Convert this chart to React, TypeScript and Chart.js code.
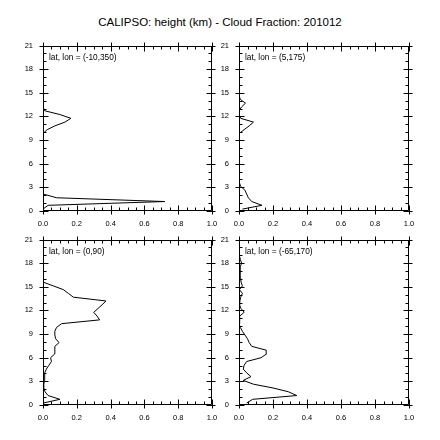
import React, { useEffect, useRef } from "react";
import { Chart, registerables } from "chart.js";

Chart.register(...registerables);

const TITLE = "CALIPSO: height (km) - Cloud Fraction: 201012";

const HEIGHTS_KM = [
  0.24, 0.72, 1.2, 1.68, 2.16, 2.64, 3.12, 3.6, 4.08, 4.56,
  5.04, 5.52, 6.0, 6.48, 6.96, 7.44, 7.92, 8.4, 8.88, 9.36,
  9.84, 10.32, 10.8, 11.28, 11.76, 12.24, 12.72, 13.2, 13.68, 14.16,
  14.64, 15.12, 15.6, 16.08, 16.56, 17.04, 17.52, 18.0, 18.48, 18.96,
];

const PANEL_LABELS = [
  "lat, lon = (-10,350)",
  "lat, lon = (5,175)",
  "lat, lon = (0,90)",
  "lat, lon = (-65,170)",
];

const CF_M10_350 = [
  0.0, 0.03, 0.72, 0.08, 0.0, 0.0, 0.0, 0.0, 0.0, 0.0,
  0.0, 0.0, 0.0, 0.0, 0.0, 0.0, 0.0, 0.0, 0.0, 0.0,
  0.005, 0.025, 0.07, 0.13, 0.165, 0.1, 0.01, 0.0, 0.0, 0.0,
  0.0, 0.0, 0.0, 0.0, 0.0, 0.0, 0.0, 0.0, 0.0, 0.0,
];

const CF_5_175 = [
  0.02, 0.135, 0.075, 0.055, 0.045, 0.035, 0.01, 0.002, 0.0, 0.0,
  0.0, 0.0, 0.0, 0.004, 0.004, 0.004, 0.003, 0.0, 0.0, 0.0,
  0.003, 0.03, 0.06, 0.085, 0.01, 0.0, 0.0, 0.015, 0.038, 0.008,
  0.0, 0.0, 0.0, 0.0, 0.0, 0.0, 0.0, 0.0, 0.0, 0.0,
];

const CF_0_90 = [
  0.0, 0.1, 0.03, 0.012, 0.005, 0.005, 0.008, 0.01, 0.01, 0.02,
  0.035, 0.05, 0.045, 0.07, 0.07, 0.07, 0.095, 0.075, 0.07, 0.07,
  0.08, 0.11, 0.335, 0.32, 0.3, 0.325, 0.35, 0.373, 0.18, 0.15,
  0.12, 0.06, 0.0, 0.0, 0.002, 0.004, 0.005, 0.003, 0.002, 0.0,
];

const CF_M65_170 = [
  0.045, 0.08, 0.34, 0.29, 0.2, 0.085, 0.025, 0.07, 0.045, 0.025,
  0.03, 0.045, 0.13, 0.162, 0.16, 0.075, 0.06, 0.05, 0.035, 0.02,
  0.008, 0.0, 0.003, 0.005, 0.03, 0.012, 0.003, 0.005, 0.01, 0.02,
  0.003, 0.02, 0.012, 0.01, 0.008, 0.006, 0.008, 0.015, 0.008, 0.002,
];

const X_TICKS = [0, 0.2, 0.4, 0.6, 0.8, 1.0];
const Y_TICKS = [0, 3, 6, 9, 12, 15, 18, 21];
const X_MINOR_STEP = 0.05;
const Y_MINOR_STEP = 1;

const FONT = '"Liberation Sans", Arial, Helvetica, sans-serif';

// chart-area rectangles on the page: [left, top, right, bottom]
const PANELS = [
  { area: [43, 41, 212, 211], values: CF_M10_350, label: PANEL_LABELS[0] },
  { area: [239, 41, 409, 211], values: CF_5_175, label: PANEL_LABELS[1] },
  { area: [43, 235, 212, 405], values: CF_0_90, label: PANEL_LABELS[2] },
  { area: [239, 235, 409, 405], values: CF_M65_170, label: PANEL_LABELS[3] },
];

const Y_AXIS_W = 43;
const X_AXIS_H = 25;
const PAD_TOP = 10;
const PAD_RIGHT = 15;

const framePlugin = {
  id: "ncFrame",
  afterDatasetsDraw(chart: any, _args: any, opts: any) {
    const { ctx, chartArea: a } = chart;
    const xs = chart.scales.x;
    const ys = chart.scales.y;
    ctx.save();
    ctx.strokeStyle = "#000";
    ctx.lineWidth = 1;
    const L = Math.round(a.left) + 0.5;
    const R = Math.round(a.right) - 0.5;
    const T = Math.round(a.top) + 0.5;
    const B = Math.round(a.bottom) - 0.5;
    ctx.beginPath();
    ctx.rect(L, T, R - L, B - T);
    const line = (x1: number, y1: number, x2: number, y2: number) => {
      ctx.moveTo(x1, y1);
      ctx.lineTo(x2, y2);
    };
    const isMajor = (v: number, arr: number[]) => arr.some((m) => Math.abs(m - v) < 1e-6);
    for (let i = 0; i <= Math.round(1 / X_MINOR_STEP); i++) {
      const v = i * X_MINOR_STEP;
      const px = Math.round(xs.getPixelForValue(v)) + 0.5;
      if (isMajor(v, X_TICKS)) {
        line(px, B + 4, px, B - 5);
        line(px, T - 4, px, T + 5);
      } else {
        line(px, B, px, B - 3);
        line(px, T, px, T + 3);
      }
    }
    for (let i = 0; i <= Math.round(21 / Y_MINOR_STEP); i++) {
      const v = i * Y_MINOR_STEP;
      const py = Math.round(ys.getPixelForValue(v)) + 0.5;
      if (isMajor(v, Y_TICKS)) {
        line(L - 4, py, L + 5, py);
        line(R + 4, py, R - 5, py);
      } else {
        line(L, py, L + 3, py);
        line(R, py, R - 3, py);
      }
    }
    ctx.stroke();
    ctx.fillStyle = "#000";
    ctx.font = `8.3px ${FONT}`;
    ctx.textAlign = "left";
    ctx.textBaseline = "alphabetic";
    ctx.fillText(opts.label, a.left + 6, a.top + 14);
    ctx.restore();
  },
};

function Panel({ area, values, label }: { area: number[]; values: number[]; label: string }) {
  const ref = useRef<HTMLCanvasElement | null>(null);
  const [L, T, R, B] = area;
  const left = L - Y_AXIS_W;
  const top = T - PAD_TOP;
  const width = R - L + Y_AXIS_W + PAD_RIGHT;
  const height = B - T + PAD_TOP + X_AXIS_H;

  useEffect(() => {
    if (!ref.current) return;
    const chart = new Chart(ref.current, {
      type: "scatter",
      data: {
        datasets: [
          {
            data: HEIGHTS_KM.map((h, i) => ({ x: values[i], y: h })),
            showLine: true,
            borderColor: "#000",
            borderWidth: 1,
            pointRadius: 0,
            fill: false,
            tension: 0,
          },
        ],
      },
      options: {
        animation: false,
        responsive: false,
        maintainAspectRatio: false,
        devicePixelRatio: 1,
        events: [],
        layout: { padding: { left: 0, top: PAD_TOP, right: PAD_RIGHT, bottom: 0 } },
        plugins: {
          legend: { display: false },
          tooltip: { enabled: false },
          title: { display: false },
          ncFrame: { label },
        } as any,
        scales: {
          x: {
            type: "linear",
            position: "bottom",
            min: 0,
            max: 1,
            afterBuildTicks: (s: any) => {
              s.ticks = X_TICKS.map((v) => ({ value: v }));
            },
            afterFit: (s: any) => {
              s.height = X_AXIS_H;
            },
            grid: { display: false, drawTicks: false },
            border: { display: false },
            ticks: {
              color: "#000",
              font: { size: 7.5, family: FONT },
              padding: 8,
              maxRotation: 0,
              autoSkip: false,
              callback: (v: any) => Number(v).toFixed(1),
            },
          },
          y: {
            type: "linear",
            position: "left",
            min: 0,
            max: 21,
            afterBuildTicks: (s: any) => {
              s.ticks = Y_TICKS.map((v) => ({ value: v }));
            },
            afterFit: (s: any) => {
              s.width = Y_AXIS_W;
            },
            grid: { display: false, drawTicks: false },
            border: { display: false },
            ticks: {
              color: "#000",
              font: { size: 7.5, family: FONT },
              padding: 10,
              autoSkip: false,
              callback: (v: any) => String(v),
            },
          },
        },
      } as any,
      plugins: [framePlugin],
    });
    return () => chart.destroy();
  }, [values, label]);

  return (
    <canvas
      ref={ref}
      width={width}
      height={height}
      style={{ position: "absolute", left, top, width, height }}
    />
  );
}

export default function App() {
  return (
    <div
      style={{
        position: "absolute",
        left: 0,
        top: 0,
        width: 440,
        height: 440,
        background: "#fff",
        overflow: "hidden",
      }}
    >
      <div
        style={{
          position: "absolute",
          left: 0,
          top: 16,
          width: 440,
          textAlign: "center",
          fontFamily: FONT,
          fontSize: 11.5,
          lineHeight: "13px",
          color: "#000",
        }}
      >
        {TITLE}
      </div>
      {PANELS.map((p, i) => (
        <Panel key={i} area={p.area} values={p.values} label={p.label} />
      ))}
    </div>
  );
}
